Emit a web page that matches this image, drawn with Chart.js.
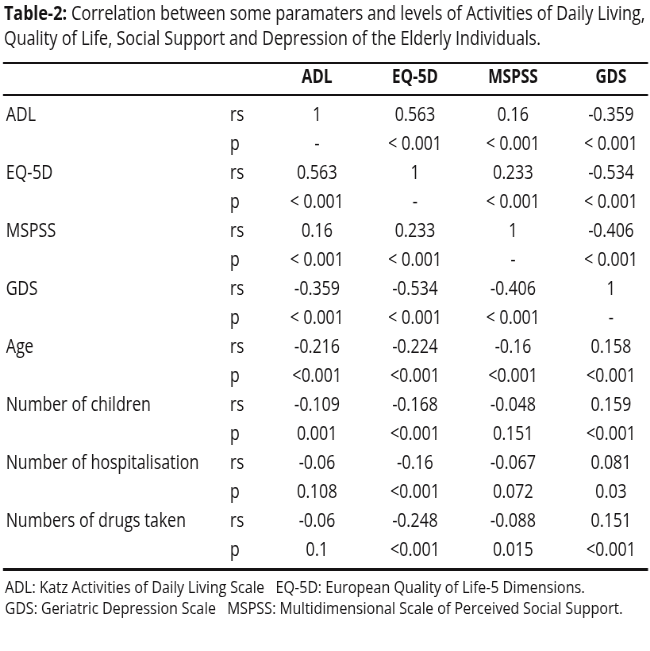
<!DOCTYPE html>
<html><head><meta charset="utf-8">
<script src="https://cdn.jsdelivr.net/npm/chart.js@4.4.1/dist/chart.umd.min.js"></script>
<style>html,body{margin:0;padding:0;background:#fff;overflow:hidden;}canvas{display:block;}</style>
</head><body>
<canvas id="c" width="650" height="651" style="width:650px;height:651px"></canvas>
<script>
// ---------- data ----------
const titleBold = 'Table-2:';
const titleRest = ' Correlation between some paramaters and levels of Activities of Daily Living,';
const titleLine2 = 'Quality of Life, Social Support and Depression of the Elderly Individuals.';
const footLine1 = 'ADL: Katz Activities of Daily Living Scale   EQ-5D: European Quality of Life-5 Dimensions.';
const footLine2 = 'GDS: Geriatric Depression Scale   MSPSS: Multidimensional Scale of Perceived Social Support.';

const columns = ['ADL', 'EQ-5D', 'MSPSS', 'GDS'];
const variables = ['ADL', 'EQ-5D', 'MSPSS', 'GDS', 'Age', 'Number of children', 'Number of hospitalisation', 'Numbers of drugs taken'];
const statNames = ['rs', 'p'];

const rsADL   = [1, 0.563, 0.16, -0.359, -0.216, -0.109, -0.06, -0.06];
const rsEQ5D  = [0.563, 1, 0.233, -0.534, -0.224, -0.168, -0.16, -0.248];
const rsMSPSS = [0.16, 0.233, 1, -0.406, -0.16, -0.048, -0.067, -0.088];
const rsGDS   = [-0.359, -0.534, -0.406, 1, 0.158, 0.159, 0.081, 0.151];

const pADL   = ['-', '< 0.001', '< 0.001', '< 0.001', '<0.001', '0.001', '0.108', '0.1'];
const pEQ5D  = ['< 0.001', '-', '< 0.001', '< 0.001', '<0.001', '<0.001', '<0.001', '<0.001'];
const pMSPSS = ['< 0.001', '< 0.001', '-', '< 0.001', '<0.001', '0.151', '0.072', '0.015'];
const pGDS   = ['< 0.001', '< 0.001', '< 0.001', '-', '<0.001', '<0.001', '0.03', '<0.001'];

// ---------- build ----------
const rsCols = [rsADL, rsEQ5D, rsMSPSS, rsGDS];
const pCols = [pADL, pEQ5D, pMSPSS, pGDS];
const rowKeys = variables.flatMap(v => statNames.map(s => v + '|' + s));

const INK = '#151314';
const FAM = '"Open Sans", "Noto Sans", sans-serif';
const BODY = 20;      // px, body text size
const HEAD = 19.5;    // px, bold header size
const FOOT = 17;      // px, footnote size

const mctx = document.createElement('canvas').getContext('2d');
function widthAt(text, size, weight) {
  mctx.font = (weight || 'normal') + ' ' + size + 'px ' + FAM;
  return mctx.measureText(text).width;
}
// horizontal condensing factor: canvas is drawn wider and displayed at 650px
let K = widthAt('Number of hospitalisation', BODY) / 193;
K = Math.max(1, Math.min(1.6, K));
const canvas = document.getElementById('c');
canvas.width = Math.round(650 * K);
K = canvas.width / 650;
const X = v => v * K;

const datasets = columns.map((col, c) => ({
  label: col,
  data: rowKeys.map(k => ({ x: col, y: k })),
  cellText: variables.flatMap((v, i) => [String(rsCols[c][i]), pCols[c][i]]),
  xAxisID: 'x',
  yAxisID: 'yName',
  showLine: false,
  pointRadius: 0,
  pointHoverRadius: 0
}));

const tablePlugin = {
  id: 'tableDraw',
  afterDatasetsDraw(chart) {
    const ctx = chart.ctx;
    const area = chart.chartArea;
    const W = chart.width;
    ctx.save();
    ctx.fillStyle = INK;
    ctx.textBaseline = 'middle';
    ctx.textAlign = 'center';
    // cells
    ctx.font = 'normal ' + BODY + 'px ' + FAM;
    chart.data.datasets.forEach((ds, d) => {
      const meta = chart.getDatasetMeta(d);
      meta.data.forEach((pt, i) => ctx.fillText(ds.cellText[i], pt.x, pt.y));
    });
    // header row from x scale
    const xs = chart.scales.x;
    ctx.font = 'bold ' + HEAD + 'px ' + FAM;
    xs.getLabels().forEach((lab, c) => ctx.fillText(lab, xs.getPixelForValue(c), area.top - 38));
    // rules
    ctx.fillRect(X(3), area.top - 53, W - X(5), 2);
    ctx.fillRect(X(3), area.top - 21, W - X(5), 2);
    ctx.fillRect(X(3), area.bottom + 18, W - X(5), 3);
    // title (bold lead + regular), fitted horizontally
    ctx.textAlign = 'left';
    const wb = widthAt(titleBold, BODY, 'bold');
    const wr = widthAt(titleRest, BODY);
    const sx = X(641) / (wb + wr);
    ctx.save();
    ctx.translate(X(4), 0);
    ctx.scale(sx, 1);
    ctx.font = 'bold ' + BODY + 'px ' + FAM;
    ctx.fillText(titleBold, 0, 14);
    ctx.font = 'normal ' + BODY + 'px ' + FAM;
    ctx.fillText(titleRest, wb, 14);
    ctx.fillText(titleLine2, 0, 39);
    ctx.restore();
    // footnotes
    const fx = X(580) / widthAt(footLine1, FOOT);
    ctx.save();
    ctx.translate(X(5), 0);
    ctx.scale(fx, 1);
    ctx.font = 'normal ' + FOOT + 'px ' + FAM;
    ctx.fillText(footLine1, 0, 588);
    ctx.fillText(footLine2, 0, 609);
    ctx.restore();
    ctx.restore();
  }
};

const tickFont = { family: FAM, size: BODY };

new Chart(canvas, {
  type: 'line',
  data: { labels: columns, datasets },
  options: {
    responsive: false,
    devicePixelRatio: 1,
    animation: false,
    events: [],
    layout: { padding: { top: 115, bottom: 101, left: X(6), right: X(39) } },
    plugins: { legend: { display: false }, tooltip: { enabled: false }, title: { display: false } },
    scales: {
      x: { type: 'category', labels: columns, display: false, offset: false },
      yName: {
        type: 'category', labels: rowKeys, position: 'left', weight: 2, offset: false,
        grid: { display: false }, border: { display: false },
        ticks: { autoSkip: false, crossAlign: 'far', font: tickFont, color: INK, padding: 0,
                 callback: (v, i) => (i % 2 === 0 ? variables[i / 2] : '') },
        afterFit: s => { s.width = X(224); }
      },
      yStat: {
        type: 'category', labels: rowKeys, position: 'left', weight: 1, offset: false,
        grid: { display: false }, border: { display: false },
        ticks: { autoSkip: false, crossAlign: 'far', font: tickFont, color: INK, padding: 0,
                 callback: (v, i) => statNames[i % 2] },
        afterFit: s => { s.width = X(87); }
      }
    }
  },
  plugins: [tablePlugin]
});
</script>
</body></html>
